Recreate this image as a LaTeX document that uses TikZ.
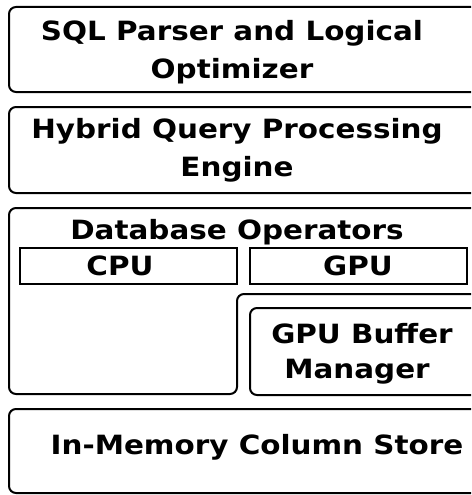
\documentclass[tikz,border=0pt]{standalone}
\usepackage{fontspec}
\setmainfont{DejaVu Sans}
% labels are set slightly wide
\newcommand\widetext[1]{\scalebox{1.11}[1]{#1}}
\begin{document}
\begin{tikzpicture}[x=1pt,y=-1pt,
  layer/.style={draw=black,line width=2pt,rounded corners=7pt},
  unit/.style={draw=black,line width=1.5pt},
  label/.style={font=\bfseries\fontsize{26.5}{36}\selectfont,inner sep=0pt,anchor=base}]
\useasboundingbox (0,0) rectangle (471,495);
\clip (0,0) rectangle (471,495);

% stacked layers (their right ends run past the frame)
\draw[layer] (9,7) rectangle (490,92);
\draw[layer] (9,107) rectangle (490,193);
\draw[layer] (9,208) -- (490,208) -- (490,294) -- (237,294) -- (237,394) -- (9,394) -- cycle;
\draw[layer] (250,308) rectangle (490,395);
\draw[layer] (9,409) rectangle (490,493);

% processor units
\draw[unit] (20,248) rectangle (237,284);
\draw[unit] (250,248) rectangle (467,284);

% texts
\node[label] (sqlA) at (232,41) {\widetext{SQL Parser and Logical}};
\node[label] (sqlB) at (232,78) {\widetext{Optimizer}};
\node[label] (hqA) at (237,138) {\widetext{Hybrid Query Processing}};
\node[label] (hqB) at (237,176) {\widetext{Engine}};
\node[label] (ops) at (237,239) {\widetext{Database Operators}};
\node[label] (cpu) at (120,275) {\widetext{CPU}};
\node[label] (gpu) at (358,275) {\widetext{GPU}};
\node[label] (bufA) at (362,343) {\widetext{GPU Buffer}};
\node[label] (bufB) at (357,378) {\widetext{Manager}};
\node[label] (store) at (257,454) {\widetext{In-Memory Column Store}};
\end{tikzpicture}
\end{document}
